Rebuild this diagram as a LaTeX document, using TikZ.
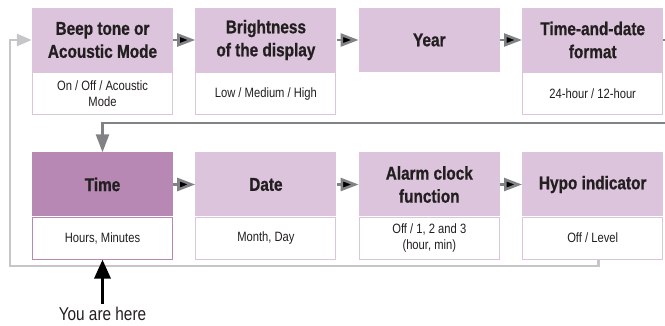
\documentclass[tikz,border=0pt]{standalone}
\usepackage{fontspec}
\setmainfont{Liberation Sans}[FakeStretch=0.83, BoldFeatures={FakeBold=0.8}]
\usetikzlibrary{arrows.meta,positioning}

\definecolor{headpink}{HTML}{DCC4DC}
\definecolor{nowpink}{HTML}{B688B3}
\definecolor{flowgray}{HTML}{808285}
\definecolor{backgray}{HTML}{C6C6C8}
\definecolor{textdark}{HTML}{231F20}

\begin{document}
\begin{tikzpicture}[x=1pt, y=-1pt, node distance=22pt, text=textdark,
    head/.style={fill=headpink, minimum width=141pt, minimum height=64pt, inner sep=0pt,
                 align=center, font=\bfseries\fontsize{18.5}{23}\selectfont},
    info/.style={draw=headpink, line width=0.9pt, fill=white, minimum width=140pt,
                 minimum height=42pt, inner sep=0pt, align=center,
                 font=\fontsize{13.5}{16}\selectfont},
    flow/.style={draw=flowgray, line width=2.6pt, -{Triangle[length=18pt,width=13pt]}},
    back/.style={draw=backgray, line width=2.8pt, -{Triangle[length=15pt,width=12pt]}},
    here/.style={draw=black, line width=3.4pt, -{Triangle[length=19pt,width=16pt]}}]
    \useasboundingbox (0,0) rectangle (665,326);

    % Nodes {beep, bright, year, format, time, date, alarm, hypo}
    \node [head]                (beep)     at (102.5,40)     {Beep tone or\\Acoustic Mode};
    \node [head]                (bright)   [right=of beep]   {Brightness\\of the display};
    \node [head]                (year)     [right=of bright] {Year};
    \node [head]                (format)   [right=of year]   {Time-and-date\\format};
    \node [head, fill=nowpink]  (time)     at (102.5,184.5)  {Time};
    \node [head]                (date)     [right=of time]   {Date};
    \node [head]                (alarm)    [right=of date]   {Alarm clock\\function};
    \node [head]                (hypo)     [right=of alarm]  {Hypo indicator};

    % Value boxes
    \node [info]                (beepinfo)   [below=0pt of beep]   {On / Off / Acoustic\\Mode};
    \node [info]                (brightinfo) [below=0pt of bright] {Low / Medium / High};
    \node [info]                (formatinfo) [below=0pt of format] {24-hour / 12-hour};
    \node [info, draw=nowpink]  (timeinfo)   [below=0pt of time]   {Hours, Minutes};
    \node [info]                (dateinfo)   [below=0pt of date]   {Month, Day};
    \node [info]                (alarminfo)  [below=0pt of alarm]  {Off / 1, 2 and 3\\(hour, min)};
    \node [info]                (hypoinfo)   [below=0pt of hypo]   {Off / Level};
    \node [font=\fontsize{18.5}{20}\selectfont] (label) at (102.5,314) {You are here};

    % Turning points
    \coordinate (turn)   at (672,123);
    \coordinate (corner) at (10,266);

    % Paths
    \path [flow] (beep)   edge (bright);
    \path [flow] (bright) edge (year);
    \path [flow] (year)   edge (format);
    \path [flow] (time)   edge (date);
    \path [flow] (date)   edge (alarm);
    \path [flow] (alarm)  edge (hypo);
    \draw [flow] (format.east) -| (turn) -| (time.north);
    \draw [back] ([xshift=5.5pt]hypoinfo.south) |- (corner) |- (beep.west);
    \draw [here] (label.north) -- (timeinfo.south);
\end{tikzpicture}
\end{document}
